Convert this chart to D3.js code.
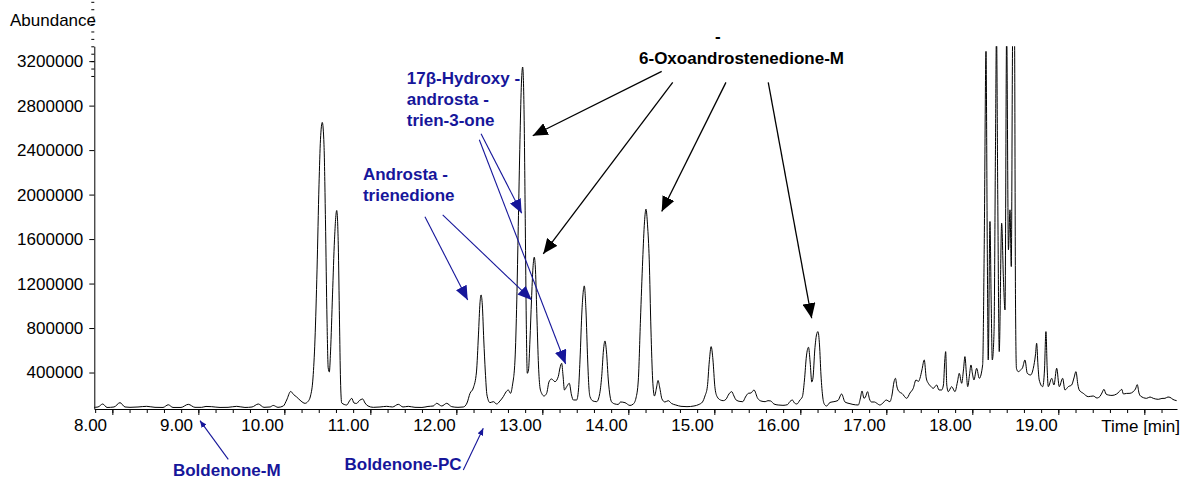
<!DOCTYPE html>
<html lang="en">
<head>
<meta charset="UTF-8">
<title>Chromatogram</title>
<script src="https://d3js.org/d3.v7.min.js"></script>
<style>
  body { margin: 0; background: #fff; }
  svg { display: block; font-family: "Liberation Sans", Arial, sans-serif; }
  .axis text { font-size: 17px; fill: #000; }
  .axis path, .axis line { stroke: #000; stroke-width: 1; }
  .note { font-size: 17px; font-weight: bold; }
</style>
</head>
<body>
<div id="chart"></div>
<script>
// retention time [min] and abundance
const times = [
  8.035, 8.093, 8.148, 8.198, 8.279, 8.349, 8.407, 8.465, 8.558, 8.659, 8.756, 8.849, 8.910, 8.965,
  9.058, 9.143, 9.221, 9.299, 9.349, 9.415, 9.512, 9.605, 9.706, 9.802, 9.884, 9.957,
  10.023, 10.093, 10.131, 10.186, 10.248, 10.287, 10.334, 10.366, 10.403, 10.453, 10.500, 10.535, 10.564,
  10.593, 10.616, 10.640, 10.663, 10.680, 10.701, 10.721, 10.738, 10.756, 10.770, 10.783, 10.797, 10.820,
  10.843, 10.869, 10.887, 10.901, 10.913, 10.927, 10.985,
  11.017, 11.043, 11.070, 11.099, 11.134, 11.171, 11.198, 11.233, 11.294, 11.372, 11.450, 11.517, 11.585,
  11.640, 11.701, 11.779, 11.860, 11.930, 11.992,
  12.031, 12.090, 12.148, 12.206, 12.279, 12.341, 12.384, 12.419, 12.457, 12.494, 12.517, 12.535, 12.547,
  12.562, 12.579, 12.597, 12.616, 12.651, 12.690, 12.729, 12.767, 12.806, 12.837, 12.864, 12.890, 12.913,
  12.942, 12.963, 12.980,
  13.000, 13.015, 13.031, 13.047, 13.062, 13.073, 13.085, 13.099, 13.116, 13.134, 13.151, 13.166, 13.180,
  13.198, 13.215, 13.233, 13.252, 13.279, 13.310, 13.337, 13.366, 13.407, 13.445, 13.465, 13.485, 13.500,
  13.517, 13.543, 13.573, 13.599, 13.620, 13.659, 13.680, 13.698, 13.721, 13.748, 13.767, 13.787, 13.802,
  13.814, 13.849, 13.892, 13.924, 13.950, 13.971, 13.988,
  14.006, 14.027, 14.047, 14.066, 14.105, 14.143, 14.169, 14.221, 14.279, 14.318, 14.349, 14.376, 14.401,
  14.427, 14.448, 14.465, 14.483, 14.503, 14.523, 14.543, 14.564, 14.587, 14.605, 14.626, 14.651, 14.686,
  14.724, 14.762, 14.812, 14.872, 14.942,
  15.023, 15.081, 15.122, 15.151, 15.179, 15.201, 15.223, 15.244, 15.266, 15.291, 15.331, 15.364, 15.395,
  15.430, 15.462, 15.488, 15.513, 15.558, 15.591, 15.622, 15.656, 15.686, 15.721, 15.764, 15.802, 15.851,
  15.884, 15.916, 15.953,
  16.002, 16.058, 16.110, 16.140, 16.167, 16.192, 16.219, 16.256, 16.284, 16.308, 16.331, 16.355, 16.374,
  16.393, 16.407, 16.428, 16.448, 16.465, 16.483, 16.500, 16.522, 16.541, 16.565, 16.605, 16.651, 16.698,
  16.740, 16.779, 16.826, 16.872, 16.934, 16.959, 16.977,
  17.000, 17.017, 17.042, 17.064, 17.087, 17.122, 17.150, 17.184, 17.221, 17.258, 17.301, 17.326, 17.349,
  17.366, 17.384, 17.409, 17.442, 17.497, 17.535, 17.573, 17.605, 17.634, 17.651, 17.674, 17.701, 17.724,
  17.748, 17.773, 17.806, 17.845, 17.872, 17.903, 17.924, 17.940, 17.950, 17.963, 17.980,
  18.020, 18.058, 18.087, 18.108, 18.136, 18.157, 18.174, 18.192, 18.206, 18.227, 18.244, 18.262, 18.279,
  18.310, 18.341, 18.380, 18.398, 18.419, 18.434, 18.445, 18.465, 18.479, 18.492, 18.512, 18.529, 18.541,
  18.556, 18.573, 18.601, 18.622, 18.640, 18.659, 18.680, 18.698, 18.713, 18.730, 18.750, 18.762, 18.773,
  18.794, 18.822, 18.843, 18.872, 18.899, 18.938, 18.969, 18.994,
  19.008, 19.023, 19.038, 19.078, 19.099, 19.116, 19.131, 19.143, 19.183, 19.209, 19.241, 19.271, 19.310,
  19.337, 19.376, 19.415, 19.442, 19.465, 19.488, 19.503, 19.550, 19.608, 19.666, 19.709, 19.744, 19.767,
  19.791, 19.814, 19.841, 19.884, 19.938, 19.971, 19.997,
  20.017, 20.052, 20.093, 20.131, 20.157, 20.178, 20.198, 20.215, 20.287, 20.326, 20.364, 20.422, 20.465,
  20.500, 20.535, 20.558, 20.593, 20.636
];

const abundance = [
  86000, 90000, 117000, 86000, 90000, 129000, 90000, 87000, 90000, 96000, 87000, 86000, 110000, 86000,
  86000, 114000, 87000, 87000, 95000, 93000, 86000, 87000, 96000, 86000, 90000, 117000,
  87000, 90000, 104000, 87000, 99000, 153000, 230000, 203000, 180000, 144000, 123000, 140000, 189000,
  351000, 693000, 1323000, 2088000, 2493000, 2649000, 2448000, 1773000, 873000, 441000, 405000, 585000, 1098000,
  1593000, 1857000, 1548000, 873000, 333000, 126000, 108000,
  144000, 168000, 126000, 122000, 149000, 162000, 126000, 99000, 87000, 90000, 96000, 90000, 114000,
  90000, 96000, 87000, 86000, 95000, 99000,
  123000, 99000, 123000, 93000, 87000, 90000, 126000, 213000, 261000, 405000, 738000, 1026000, 1098000,
  1008000, 693000, 405000, 198000, 129000, 138000, 117000, 144000, 183000, 225000, 243000, 213000, 288000,
  513000, 1053000, 1713000,
  2493000, 2961000, 3147000, 2763000, 1713000, 873000, 393000, 423000, 693000, 1053000, 1341000, 1437000, 1323000,
  873000, 468000, 261000, 213000, 189000, 213000, 315000, 342000, 318000, 363000, 441000, 483000, 378000,
  243000, 273000, 303000, 198000, 153000, 153000, 243000, 513000, 963000, 1179000, 963000, 513000, 261000,
  183000, 144000, 138000, 198000, 363000, 603000, 684000,
  585000, 333000, 189000, 135000, 117000, 113000, 135000, 129000, 104000, 117000, 171000, 333000, 873000,
  1413000, 1755000, 1869000, 1728000, 1413000, 783000, 333000, 189000, 261000, 329000, 261000, 162000, 135000,
  147000, 122000, 108000, 96000, 93000,
  99000, 113000, 135000, 189000, 273000, 495000, 633000, 513000, 273000, 185000, 153000, 147000, 159000,
  207000, 228000, 189000, 153000, 140000, 138000, 180000, 213000, 216000, 243000, 168000, 144000, 138000,
  147000, 144000, 117000,
  108000, 105000, 111000, 140000, 153000, 126000, 117000, 153000, 183000, 333000, 549000, 627000, 495000,
  315000, 351000, 603000, 738000, 768000, 648000, 378000, 171000, 113000, 99000, 131000, 138000, 149000,
  207000, 135000, 122000, 113000, 108000, 171000, 234000,
  168000, 180000, 228000, 162000, 135000, 135000, 123000, 108000, 126000, 153000, 138000, 198000, 315000,
  348000, 270000, 228000, 212000, 168000, 216000, 258000, 333000, 320000, 348000, 423000, 513000, 351000,
  303000, 279000, 258000, 288000, 243000, 243000, 288000, 513000, 588000, 288000, 228000,
  273000, 228000, 315000, 393000, 303000, 423000, 543000, 378000, 273000, 378000, 468000, 387000, 333000,
  438000, 348000, 468000, 1503000, 3288000, 1503000, 513000, 1758000, 1053000, 513000, 753000, 2403000, 3483000,
  1953000, 588000, 1743000, 1233000, 963000, 3483000, 1503000, 1863000, 1353000, 3483000, 3483000, 1053000, 438000,
  408000, 423000, 441000, 513000, 393000, 378000, 438000, 558000,
  663000, 468000, 333000, 273000, 423000, 768000, 423000, 273000, 348000, 288000, 438000, 273000, 348000,
  243000, 273000, 288000, 351000, 408000, 288000, 243000, 213000, 183000, 189000, 171000, 185000, 216000,
  249000, 207000, 198000, 194000, 207000, 230000, 249000,
  207000, 212000, 213000, 228000, 252000, 291000, 216000, 189000, 168000, 180000, 168000, 159000, 167000,
  168000, 180000, 177000, 158000, 147000
];

const xLabels = [8, 9, 10, 11, 12, 13, 14, 15, 16, 17, 18, 19];
const yLabels = [400000, 800000, 1200000, 1600000, 2000000, 2400000, 2800000, 3200000];

// annotations, in data units (time, abundance)
const blueLabels = [
  { lines: ["17β-Hydroxy -", "androsta -", "trien-3-one"], t: 11.683, v: 2997000, anchor: "start" },
  { lines: ["Androsta -", "trienedione"], t: 11.174, v: 2133000, anchor: "start" },
  { lines: ["Boldenone-M"], t: 9.590, v: -531000, anchor: "middle" },
  { lines: ["Boldenone-PC"], t: 11.640, v: -477000, anchor: "middle" }
];
const blackLabels = [
  { lines: ["-"], t: 15.302, v: 3375000, anchor: "middle" },
  { lines: ["6-Oxoandrostenedione-M"], t: 15.576, v: 3174000, anchor: "middle" }
];
const blackArrows = [
  [[14.648, 3108000], [13.148, 2529000]],
  [[14.776, 3009000], [13.271, 1467000]],
  [[15.395, 3009000], [14.648, 1848000]],
  [[15.887, 3009000], [16.392, 888000]]
];
const blueArrows = [
  [[12.547, 2547000], [13.020, 1833000]],
  [[12.527, 2493000], [13.531, 477000]],
  [[11.895, 1800000], [12.392, 1053000]],
  [[12.101, 1818000], [13.136, 1053000]]
];
const blueSmallArrows = [
  [[9.608, -381000], [9.279, -33000]],
  [[12.341, -477000], [12.573, -102000]]
];

const width = 1189, height = 481;
const blue = "#16169a";

const svg = d3.select("#chart").append("svg")
  .attr("width", width)
  .attr("height", height);

svg.append("rect").attr("width", width).attr("height", height).attr("fill", "#fff");

const x = d3.scaleLinear().domain([8.05, 20.64]).range([94.3, 1177]);
const y = d3.scaleLinear().domain([72000, 3333333]).range([409, 46.3]);

// arrow heads
const defs = svg.append("defs");
function marker(id, color, w, h) {
  defs.append("marker")
    .attr("id", id)
    .attr("viewBox", `0 0 ${w} ${h}`)
    .attr("markerUnits", "userSpaceOnUse")
    .attr("markerWidth", w)
    .attr("markerHeight", h)
    .attr("refX", w)
    .attr("refY", h / 2)
    .attr("orient", "auto")
    .append("path")
    .attr("d", `M0,0L${w},${h / 2}L0,${h}Z`)
    .attr("fill", color);
}
marker("headBlack", "#000", 15, 13);
marker("headBlue", blue, 14, 12);
marker("headBlueSmall", blue, 7, 6);

defs.append("clipPath").attr("id", "plot")
  .append("rect")
  .attr("x", x.range()[0]).attr("y", y.range()[1])
  .attr("width", x.range()[1] - x.range()[0])
  .attr("height", y.range()[0] - y.range()[1]);

// x axis: minor ticks every 0.2 min, longer ones every minute, labels separately
const xTicks = d3.range(8.06, 20.64, 0.2);
const xMajor = xTicks.filter((d, i) => i % 5 === 1);

svg.append("g")
  .attr("class", "axis")
  .attr("transform", `translate(0,${y.range()[0]})`)
  .call(d3.axisBottom(x).tickValues(xTicks).tickSize(4).tickSizeOuter(0).tickFormat(""));

svg.append("g")
  .attr("class", "axis")
  .attr("transform", `translate(0,${y.range()[0]})`)
  .call(d3.axisBottom(x).tickValues(xMajor).tickSize(6).tickFormat(""))
  .call(g => g.select(".domain").remove());

svg.append("g")
  .attr("class", "axis")
  .attr("transform", `translate(0,${y.range()[0]})`)
  .call(d3.axisBottom(x).tickValues(xLabels).tickSize(0).tickPadding(10).tickFormat(d3.format(".2f")))
  .call(g => g.select(".domain").remove());

svg.append("text")
  .attr("x", x.range()[1] + 3)
  .attr("y", 431.5)
  .attr("text-anchor", "end")
  .attr("font-size", 17)
  .text("Time [min]");

// y axis
const yTicks = d3.range(-46, 3).map(k => 3200000 - k * 400000 / 6).filter(d => d > 72000);

svg.append("g")
  .attr("class", "axis")
  .attr("transform", `translate(${x.range()[0]},0)`)
  .call(d3.axisLeft(y).tickValues(yTicks).tickSize(3).tickSizeOuter(0).tickFormat(""));

svg.append("g")
  .attr("class", "axis")
  .attr("transform", `translate(${x.range()[0]},0)`)
  .call(d3.axisLeft(y).tickValues(yLabels).tickSize(5).tickPadding(6).tickFormat(d3.format("d")))
  .call(g => g.select(".domain").remove());

svg.append("text")
  .attr("x", 10)
  .attr("y", 25.5)
  .attr("font-size", 17)
  .text("Abundance");

// trace
const points = times.map((t, i) => [t, abundance[i]]);
const line = d3.line()
  .x(d => x(d[0]))
  .y(d => y(d[1]))
  .curve(d3.curveMonotoneX);

svg.append("path")
  .datum(points)
  .attr("clip-path", "url(#plot)")
  .attr("fill", "none")
  .attr("stroke", "#000")
  .attr("stroke-width", 1)
  .attr("d", line);

// arrows
function drawArrows(list, color, width, head) {
  svg.append("g").selectAll("line")
    .data(list)
    .join("line")
    .attr("x1", d => x(d[0][0]))
    .attr("y1", d => y(d[0][1]))
    .attr("x2", d => x(d[1][0]))
    .attr("y2", d => y(d[1][1]))
    .attr("stroke", color)
    .attr("stroke-width", width)
    .attr("marker-end", `url(#${head})`);
}
drawArrows(blackArrows, "#000", 1.3, "headBlack");
drawArrows(blueArrows, blue, 1.1, "headBlue");
drawArrows(blueSmallArrows, blue, 1.1, "headBlueSmall");

// labels
function drawLabels(list, color) {
  const txt = svg.append("g").selectAll("text")
    .data(list)
    .join("text")
    .attr("class", "note")
    .attr("fill", color)
    .attr("text-anchor", d => d.anchor)
    .attr("x", d => x(d.t))
    .attr("y", d => y(d.v));
  txt.selectAll("tspan")
    .data(d => d.lines.map(l => ({ l, t: d.t })))
    .join("tspan")
    .attr("x", d => x(d.t))
    .attr("dy", (d, i) => i === 0 ? 0 : "1.24em")
    .text(d => d.l);
}
drawLabels(blueLabels, blue);
drawLabels(blackLabels, "#000");
</script>
</body>
</html>
